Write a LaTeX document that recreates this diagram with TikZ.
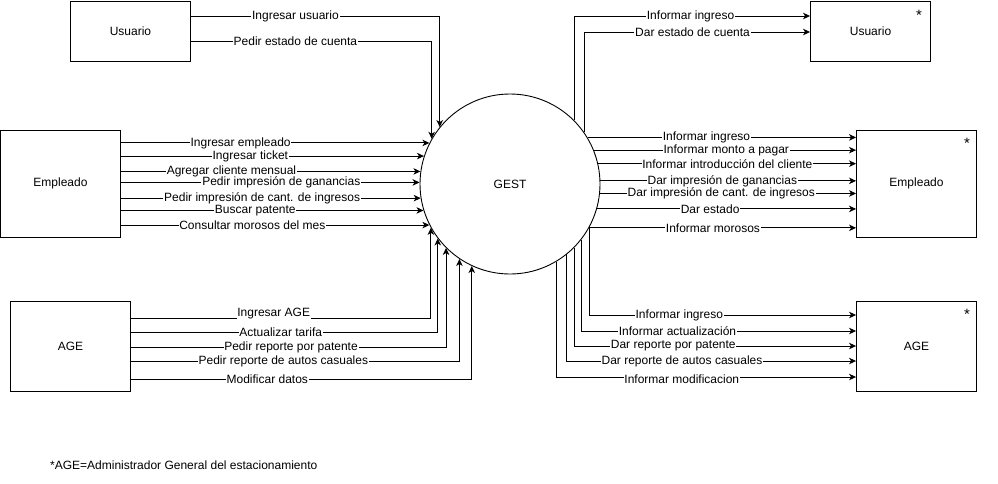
\documentclass[tikz,border=0pt]{standalone}
\usepackage{fontspec}
\setmainfont{Liberation Sans}
\usetikzlibrary{arrows.meta}
\begin{document}
\begin{tikzpicture}[x=1pt,y=-1pt,
  box/.style={draw, line width=0.9pt, minimum width=120pt, inner sep=0pt, font=\fontsize{12}{14}\selectfont},
  flow/.style={draw, line width=0.9pt, -{Stealth[length=7pt,width=6.5pt,inset=2pt]}},
  lbl/.style={fill=white, inner sep=0.8pt, font=\fontsize{12}{13}\selectfont},
  star/.style={inner sep=0pt, font=\fontsize{15}{15}\selectfont}
]
\useasboundingbox (0,0) rectangle (998,483);

% process
\node[circle, draw, line width=0.9pt, minimum size=180pt, inner sep=0pt, font=\fontsize{12}{14}\selectfont] (gest) at (510,184) {GEST};

% external entities
\node[box, minimum height=60pt] (usuL) at (130.5,31) {Usuario};
\node[box, minimum height=107pt] (empL) at (60.5,183.5) {Empleado};
\node[box, minimum height=90pt] (ageL) at (70.5,346) {AGE};
\node[box, minimum height=60pt] (usuR) at (870.5,31) {Usuario};
\node[box, minimum height=107pt] (empR) at (916.5,183.5) {Empleado};
\node[box, minimum height=90pt] (ageR) at (916.5,346) {AGE};

\node[star] (s1) at (919,15) {*};
\node[star] (s2) at (967,143) {*};
\node[star] (s3) at (967,314) {*};

% Usuario -> GEST
\draw[flow] ([yshift=15pt]usuL.east) -| node[lbl,pos=0.21]{Ingresar usuario} (gest.141.06);
\draw[flow] ([yshift=-10pt]usuL.east) -| node[lbl,pos=0.217]{Pedir estado de cuenta} (gest.150.07);

% Empleado -> GEST
\draw[flow] (gest.153.6 -| empL.east) -- node[lbl,pos=0.388]{Ingresar empleado} (gest.153.6);
\draw[flow] (gest.162.5 -| empL.east) -- node[lbl,pos=0.427]{Ingresar ticket} (gest.162.5);
\draw[flow] (gest.172.3 -| empL.east) -- node[lbl,pos=0.369]{Agregar cliente mensual} (gest.172.3);
\draw[flow] (gest.179.4 -| empL.east) -- node[lbl,pos=0.537]{Pedir impresión de ganancias} (gest.179.4);
\draw[flow] (gest.189.6 -| empL.east) -- node[lbl,pos=0.471]{Pedir impresión de cant. de ingresos} (gest.189.6);
\draw[flow] (gest.197.5 -| empL.east) -- node[lbl,pos=0.444]{Buscar patente} (gest.197.5);
\draw[flow] (gest.207.1 -| empL.east) -- node[lbl,pos=0.426]{Consultar morosos del mes} (gest.207.1);

% AGE -> GEST
\draw[flow] ([yshift=28pt]ageL.east) -| node[lbl,pos=0.238,yshift=4pt]{Ingresar AGE} (gest.209.93);
\draw[flow] ([yshift=14pt]ageL.east) -| node[lbl,pos=0.244]{Actualizar tarifa} (gest.217.92);
\draw[flow] ([yshift=-1pt]ageL.east) -| node[lbl,pos=0.254]{Pedir reporte por patente} (gest.225.57);
\draw[flow] ([yshift=-15pt]ageL.east) -| node[lbl,pos=0.232]{Pedir reporte de autos casuales} (gest.236.25);
\draw[flow] ([yshift=-33pt]ageL.east) -| node[lbl,pos=0.2]{Modificar datos} (gest.245.73);

% GEST -> Usuario
\draw[flow] (gest.45.57) |- node[lbl,pos=0.747]{Informar ingreso} ([yshift=15pt]usuR.west);
\draw[flow] (gest.35.80) |- node[lbl,pos=0.74]{Dar estado de cuenta} ([yshift=-1pt]usuR.west);

% GEST -> Empleado
\draw[flow] (gest.31.48) -- node[lbl,pos=0.443]{Informar ingreso} (gest.31.48 -| empR.west);
\draw[flow] (gest.22.20) -- node[lbl,pos=0.505]{Informar monto a pagar} (gest.22.20 -| empR.west);
\draw[flow] (gest.13.49) -- node[lbl,pos=0.501]{Informar introducción del cliente} (gest.13.49 -| empR.west);
\draw[flow] (gest.2.55) -- node[lbl,pos=0.477]{Dar impresión de ganancias} (gest.2.55 -| empR.west);
\draw[flow] (gest.354.26) -- node[lbl,pos=0.474]{Dar impresión de cant. de ingresos} (gest.354.26 -| empR.west);
\draw[flow] (gest.344.53) -- node[lbl,pos=0.437]{Dar estado} (gest.344.53 -| empR.west);
\draw[flow] (gest.331.46) -- node[lbl,pos=0.464]{Informar morosos} (gest.331.46 -| empR.west);

% GEST -> AGE
\draw[flow] (gest.331.38) |- node[lbl,pos=0.669]{Informar ingreso} ([yshift=31pt]ageR.west);
\draw[flow] (gest.322.08) |- node[lbl,pos=0.675]{Informar actualización} ([yshift=15pt]ageR.west);
\draw[flow] (gest.315.33) |- node[lbl,pos=0.676]{Dar reporte por patente} (ageR.west);
\draw[flow] (gest.309.30) |- node[lbl,pos=0.699]{Dar reporte de autos casuales} ([yshift=-15pt]ageR.west);
\draw[flow] (gest.301.86) |- node[lbl,pos=0.709,yshift=-2pt]{Informar modificacion} ([yshift=-31pt]ageR.west);

% note
\node[anchor=west, inner sep=0pt, font=\fontsize{12}{13}\selectfont] (nota) at (50,465) {*AGE=Administrador General del estacionamiento};
\end{tikzpicture}
\end{document}
